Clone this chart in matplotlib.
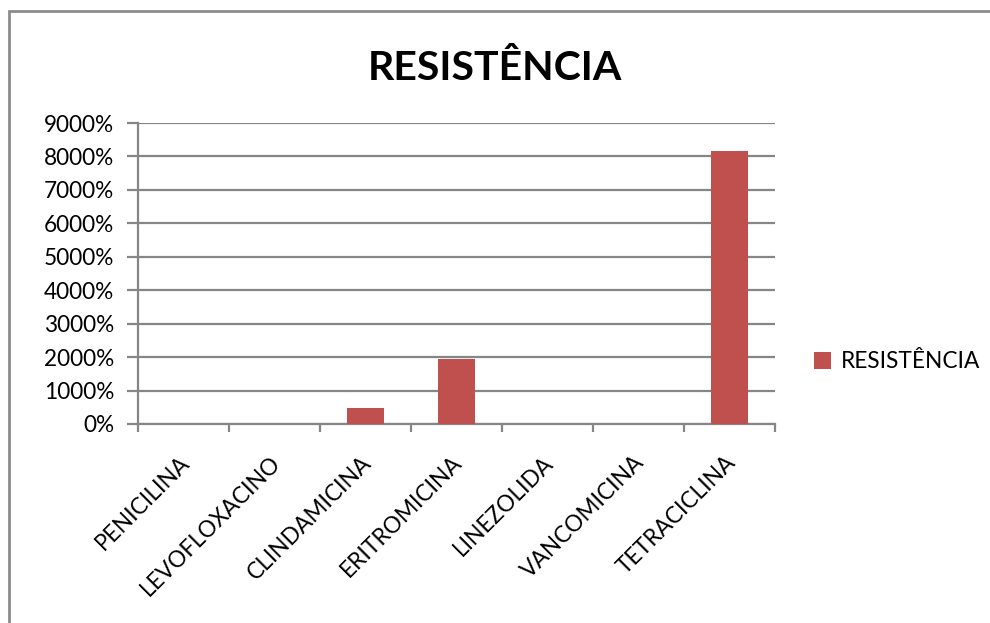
import matplotlib.pyplot as plt
import matplotlib.transforms as mtransforms
import numpy as np
from matplotlib.patches import Rectangle
from matplotlib.ticker import FuncFormatter

plt.rcParams['font.family'] = ['Lato', 'DejaVu Sans']

antibioticos = ['PENICILINA', 'LEVOFLOXACINO', 'CLINDAMICINA', 'ERITROMICINA',
                'LINEZOLIDA', 'VANCOMICINA', 'TETRACICLINA']
resistencia = [0, 0, 480, 1930, 0, 0, 8160]

GRID = '#868686'
BAR = '#C0504D'
FS = 16.3

fig = plt.figure(figsize=(9.9, 6.23), dpi=100)
ax = fig.add_axes([138 / 990, 1 - 424 / 623, (775 - 138) / 990, (424 - 123) / 623])

x = np.arange(len(antibioticos))
ax.bar(x, resistencia, width=0.4, color=BAR, label='RESISTÊNCIA', zorder=3)

ax.set_xlim(-0.5, len(antibioticos) - 0.5)
ax.set_ylim(0, 9000)
ax.set_yticks(np.arange(0, 9001, 1000))
ax.yaxis.set_major_formatter(FuncFormatter(lambda v, p: f'{int(v)}%'))
ax.grid(axis='y', color=GRID, linewidth=1.6, zorder=0)

ax.set_xticks(x)
ax.set_xticklabels(antibioticos, rotation=45, ha='right', rotation_mode='anchor', fontsize=FS)
ax.set_xticks(np.arange(-0.5, len(antibioticos)), minor=True)
ax.tick_params(axis='x', which='major', length=0, pad=20)
ax.tick_params(axis='x', which='minor', length=6, color=GRID, width=1.6)
ax.tick_params(axis='y', length=8, color=GRID, width=1.6, labelsize=FS, pad=9)

# nudge the rotated labels a little to the left
shift = mtransforms.ScaledTranslation(-5 / 100, 0, fig.dpi_scale_trans)
for lab in ax.get_xticklabels():
    lab.set_transform(lab.get_transform() + shift)

for s in ['top', 'right']:
    ax.spines[s].set_visible(False)
for s in ['left', 'bottom']:
    ax.spines[s].set_color(GRID)
    ax.spines[s].set_linewidth(1.6)

fig.text(0.5, 1 - 68 / 623, 'RESISTÊNCIA', ha='center', va='center',
         fontsize=29.5, fontweight='bold')

ax.legend(loc='center left', bbox_to_anchor=(1.03, 0.206), frameon=False,
          fontsize=FS, handlelength=0.75, handleheight=0.75, handletextpad=0.4)

fig.patches.append(Rectangle((9 / 990, -0.1), 1.2, 1 - 11 / 623 + 0.1,
                             transform=fig.transFigure, fill=False,
                             edgecolor='#8c8c8c', linewidth=2))

plt.savefig('out.png')
plt.close()
